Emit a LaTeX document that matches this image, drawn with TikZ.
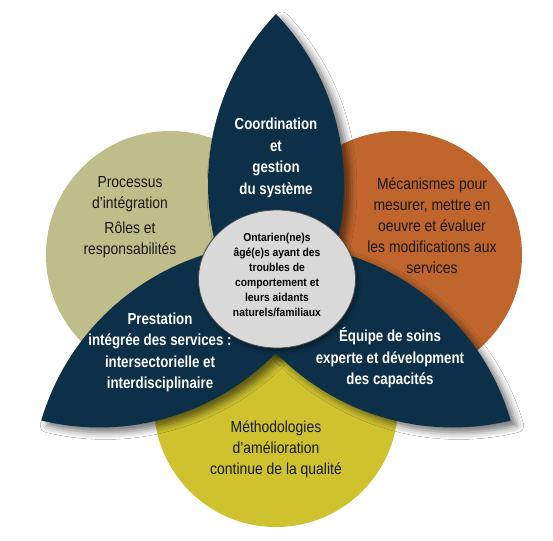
\documentclass[tikz,border=0pt]{standalone}
\usepackage{fontspec}
\setmainfont{Liberation Sans}
\newfontfamily\petalfont{Liberation Sans}[FakeStretch=0.83]
\newfontfamily\ringfont{Liberation Sans}[FakeStretch=0.87]
\newfontfamily\hubfont{Liberation Sans}[FakeStretch=0.9]
\usetikzlibrary{shapes.geometric,shadows.blur}

\definecolor{petalblue}{HTML}{0B3048}
\definecolor{oliveringcol}{HTML}{BFBE8A}
\definecolor{orangeringcol}{HTML}{C0652B}
\definecolor{yellowringcol}{HTML}{CEC22F}
\definecolor{hubgray}{HTML}{D9D9D9}

\tikzset{
  petal/.style={fill=petalblue,draw=none},
  petal shadow/.style={blur shadow={shadow xshift=6pt,shadow yshift=-5pt,
      shadow blur radius=7pt,shadow opacity=55}},
  ring label/.style={text=black!90,align=center,inner sep=0pt,
      font=\ringfont\fontsize{16}{21}\selectfont},
  petal label/.style={text=white,align=center,inner sep=0pt,
      font=\petalfont\bfseries\fontsize{16}{21.5}\selectfont},
  hub/.style={ellipse,fill=hubgray,draw=black!70,line width=0.8pt,
      minimum width=157pt,minimum height=138pt,inner sep=0pt,
      blur shadow={shadow xshift=2pt,shadow yshift=-3pt,shadow blur radius=4pt,shadow opacity=40}},
  hub label/.style={text=black,align=center,inner sep=0pt,
      font=\hubfont\bfseries\fontsize{11.5}{15}\selectfont}
}

\begin{document}
\begin{tikzpicture}[x=1pt,y=1pt]
  \fill[white] (-276,-255) rectangle (277,285);
  \useasboundingbox (-276,-255) rectangle (277,285);

  % outer rings
  \coordinate (olive_c) at (-106,30);
  \coordinate (orange_c) at (122,30);
  \coordinate (yellow_c) at (0,-120);
  \fill[oliveringcol] (olive_c) circle[radius=124];
  \fill[orangeringcol] (orange_c) circle[radius=124];
  \fill[yellowringcol] (yellow_c) circle[radius=122];

  % petals: shadows first, then the leaves
  \foreach \a in {0,120,240}
    \path[petal shadow] ({90+\a}:271) arc[start angle=43.6+\a,end angle=-43.6+\a,radius=246.5]
      arc[start angle=223.6+\a,end angle=136.4+\a,radius=246.5] -- cycle;
  \foreach \a in {0,120,240}
    \path[petal] ({90+\a}:271) arc[start angle=43.6+\a,end angle=-43.6+\a,radius=246.5]
      arc[start angle=223.6+\a,end angle=136.4+\a,radius=246.5] -- cycle;

  \node (hub) [hub] at (1,6) {};
  \node (hub_label) [hub label] at ([yshift=4pt]hub.center)
    {Ontarien(ne)s\\âgé(e)s ayant des\\troubles de\\comportement et\\leurs aidants\\naturels/familiaux};

  \node (coord_label) [petal label] at (0,127) {Coordination\\et\\gestion\\du système};
  \node (prest_label) [petal label] at (-116,-67.5)
    {Prestation\\intégrée des services :\\intersectorielle et\\interdisciplinaire};
  \node (equipe_label) [petal label] at (114,-73)
    {Équipe de soins\\experte et dévelopment\\des capacités};

  \node (olive_label) [ring label] at (-146,68)
    {Processus\\d’intégration\\[4pt]Rôles et\\responsabilités};
  \node (orange_label) [ring label] at (156,59)
    {Mécanismes pour\\mesurer, mettre en\\oeuvre et évaluer\\les modifications aux\\services};
  \node (yellow_label) [ring label] at (0,-164)
    {Méthodologies\\d’amélioration\\continue de la qualité};
\end{tikzpicture}
\end{document}
